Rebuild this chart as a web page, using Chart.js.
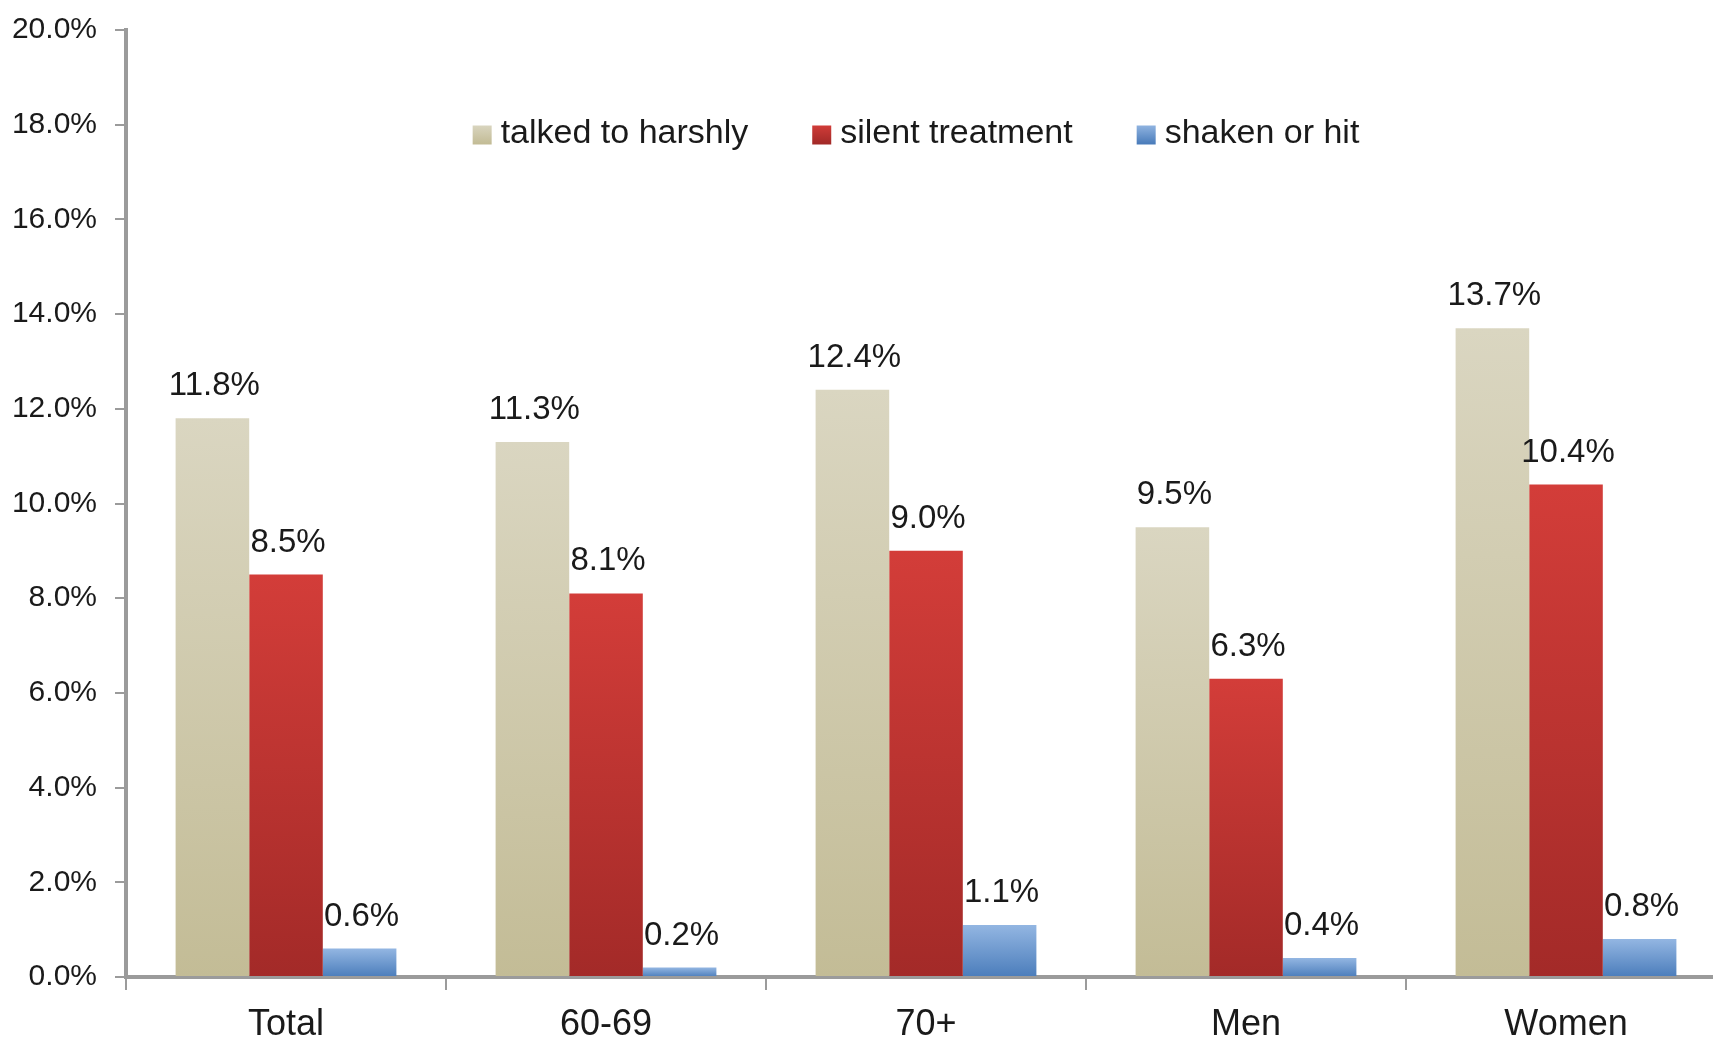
<!DOCTYPE html>
<html>
<head>
<meta charset="utf-8">
<title>Mistreatment by group</title>
<script src="https://cdn.jsdelivr.net/npm/chart.js@4.4.1/dist/chart.umd.min.js"></script>
<style>
  html, body { margin: 0; padding: 0; background: #ffffff; overflow: hidden; }
  #wrap { width: 1728px; height: 1041px; }
  canvas { display: block; }
</style>
</head>
<body>
<div id="wrap"><canvas id="chart" width="1728" height="1041"></canvas></div>
<script>
// Groups along the x axis
const categories = ['Total', '60-69', '70+', 'Men', 'Women'];

// Share of respondents (%) per group, one array per type of mistreatment
const seriesNames = ['talked to harshly', 'silent treatment', 'shaken or hit'];
const talkedHarshly   = [11.8, 11.3, 12.4, 9.5, 13.7];
const silentTreatment = [8.5, 8.1, 9.0, 6.3, 10.4];
const shakenOrHit     = [0.6, 0.2, 1.1, 0.4, 0.8];

// Value axis range
const yMin = 0, yMax = 20, yStep = 2;

const NARROW = "'Liberation Sans Narrow', 'Arial Narrow', 'Liberation Sans', Arial, sans-serif";
const REGULAR = "'Liberation Sans', Arial, sans-serif";
const AXIS_GREY = '#9b9b9b';
const TEXT = '#1a1a1a';

// Top and bottom colours of each series' vertical gradient
const shades = [
  ['#dad6c1', '#c3bc96'],
  ['#d33d39', '#a32a28'],
  ['#93b6e2', '#4b7dbb']
];

function barGradient(idx) {
  return function (context) {
    const chart = context.chart;
    const { chartArea, scales } = chart;
    if (!chartArea || context.parsed == null) return shades[idx][1];
    const top = scales.y.getPixelForValue(context.parsed.y);
    const base = scales.y.getPixelForValue(0);
    const g = chart.ctx.createLinearGradient(0, top, 0, Math.max(base, top + 1));
    g.addColorStop(0, shades[idx][0]);
    g.addColorStop(1, shades[idx][1]);
    return g;
  };
}

// Percent labels printed above every bar
const valueLabels = {
  id: 'valueLabels',
  afterDatasetsDraw(chart) {
    const ctx = chart.ctx;
    ctx.save();
    ctx.font = '33px ' + NARROW;
    ctx.fillStyle = TEXT;
    ctx.textAlign = 'center';
    ctx.textBaseline = 'alphabetic';
    chart.data.datasets.forEach((ds, di) => {
      const meta = chart.getDatasetMeta(di);
      meta.data.forEach((bar, i) => {
        ctx.fillText(ds.data[i].toFixed(1) + '%', bar.x + 2, bar.y - 23);
      });
    });
    ctx.restore();
  }
};

// Single-row legend drawn inside the plot, near the top
const insideLegend = {
  id: 'insideLegend',
  afterDraw(chart) {
    const ctx = chart.ctx;
    const area = chart.chartArea;
    const box = 19, boxGap = 9, itemGap = 64;
    ctx.save();
    ctx.font = '34px ' + REGULAR;
    const widths = chart.data.datasets.map(ds => box + boxGap + ctx.measureText(ds.label).width);
    const total = widths.reduce((a, b) => a + b, 0) + itemGap * (widths.length - 1);
    let x = (area.left + area.right) / 2 - 10 - total / 2;
    const cy = area.top + 104;
    chart.data.datasets.forEach((ds, di) => {
      const g = ctx.createLinearGradient(0, cy - box / 2, 0, cy + box / 2);
      g.addColorStop(0, shades[di][0]);
      g.addColorStop(1, shades[di][1]);
      ctx.fillStyle = g;
      ctx.fillRect(x, cy - box / 2 + 1, box, box);
      ctx.fillStyle = TEXT;
      ctx.textAlign = 'left';
      ctx.textBaseline = 'middle';
      ctx.fillText(ds.label, x + box + boxGap, cy);
      x += widths[di] + itemGap;
    });
    ctx.restore();
  }
};

const seriesValues = [talkedHarshly, silentTreatment, shakenOrHit];

new Chart(document.getElementById('chart'), {
  type: 'bar',
  data: {
    labels: categories,
    datasets: seriesValues.map((values, i) => ({
      label: seriesNames[i],
      data: values,
      backgroundColor: barGradient(i),
      borderWidth: 0,
      categoryPercentage: 0.69,
      barPercentage: 1.0
    }))
  },
  options: {
    responsive: false,
    animation: false,
    devicePixelRatio: 1,
    layout: { padding: { top: 30, right: 2, left: 0, bottom: 0 } },
    plugins: {
      legend: { display: false },
      tooltip: { enabled: false },
      title: { display: false }
    },
    scales: {
      x: {
        grid: {
          display: true,
          offset: true,
          drawOnChartArea: false,
          drawTicks: true,
          tickLength: 13,
          color: AXIS_GREY,
          lineWidth: 2
        },
        border: { display: true, color: AXIS_GREY, width: 4 },
        ticks: {
          color: TEXT,
          font: { family: NARROW, size: 36, lineHeight: 1 },
          padding: 17,
          maxRotation: 0
        },
        afterFit(scale) { scale.height = 64; }
      },
      y: {
        min: yMin,
        max: yMax,
        ticks: {
          stepSize: yStep,
          color: TEXT,
          font: { family: NARROW, size: 30 },
          padding: 18,
          callback: v => v.toFixed(1) + '%'
        },
        grid: {
          drawOnChartArea: false,
          drawTicks: true,
          tickLength: 11,
          color: AXIS_GREY,
          lineWidth: 2
        },
        border: { display: true, color: AXIS_GREY, width: 4 },
        afterFit(scale) {
          scale.width = 126;
          scale.paddingTop = 0;
          scale.paddingBottom = 0;
        }
      }
    }
  },
  plugins: [valueLabels, insideLegend]
});
</script>
</body>
</html>
